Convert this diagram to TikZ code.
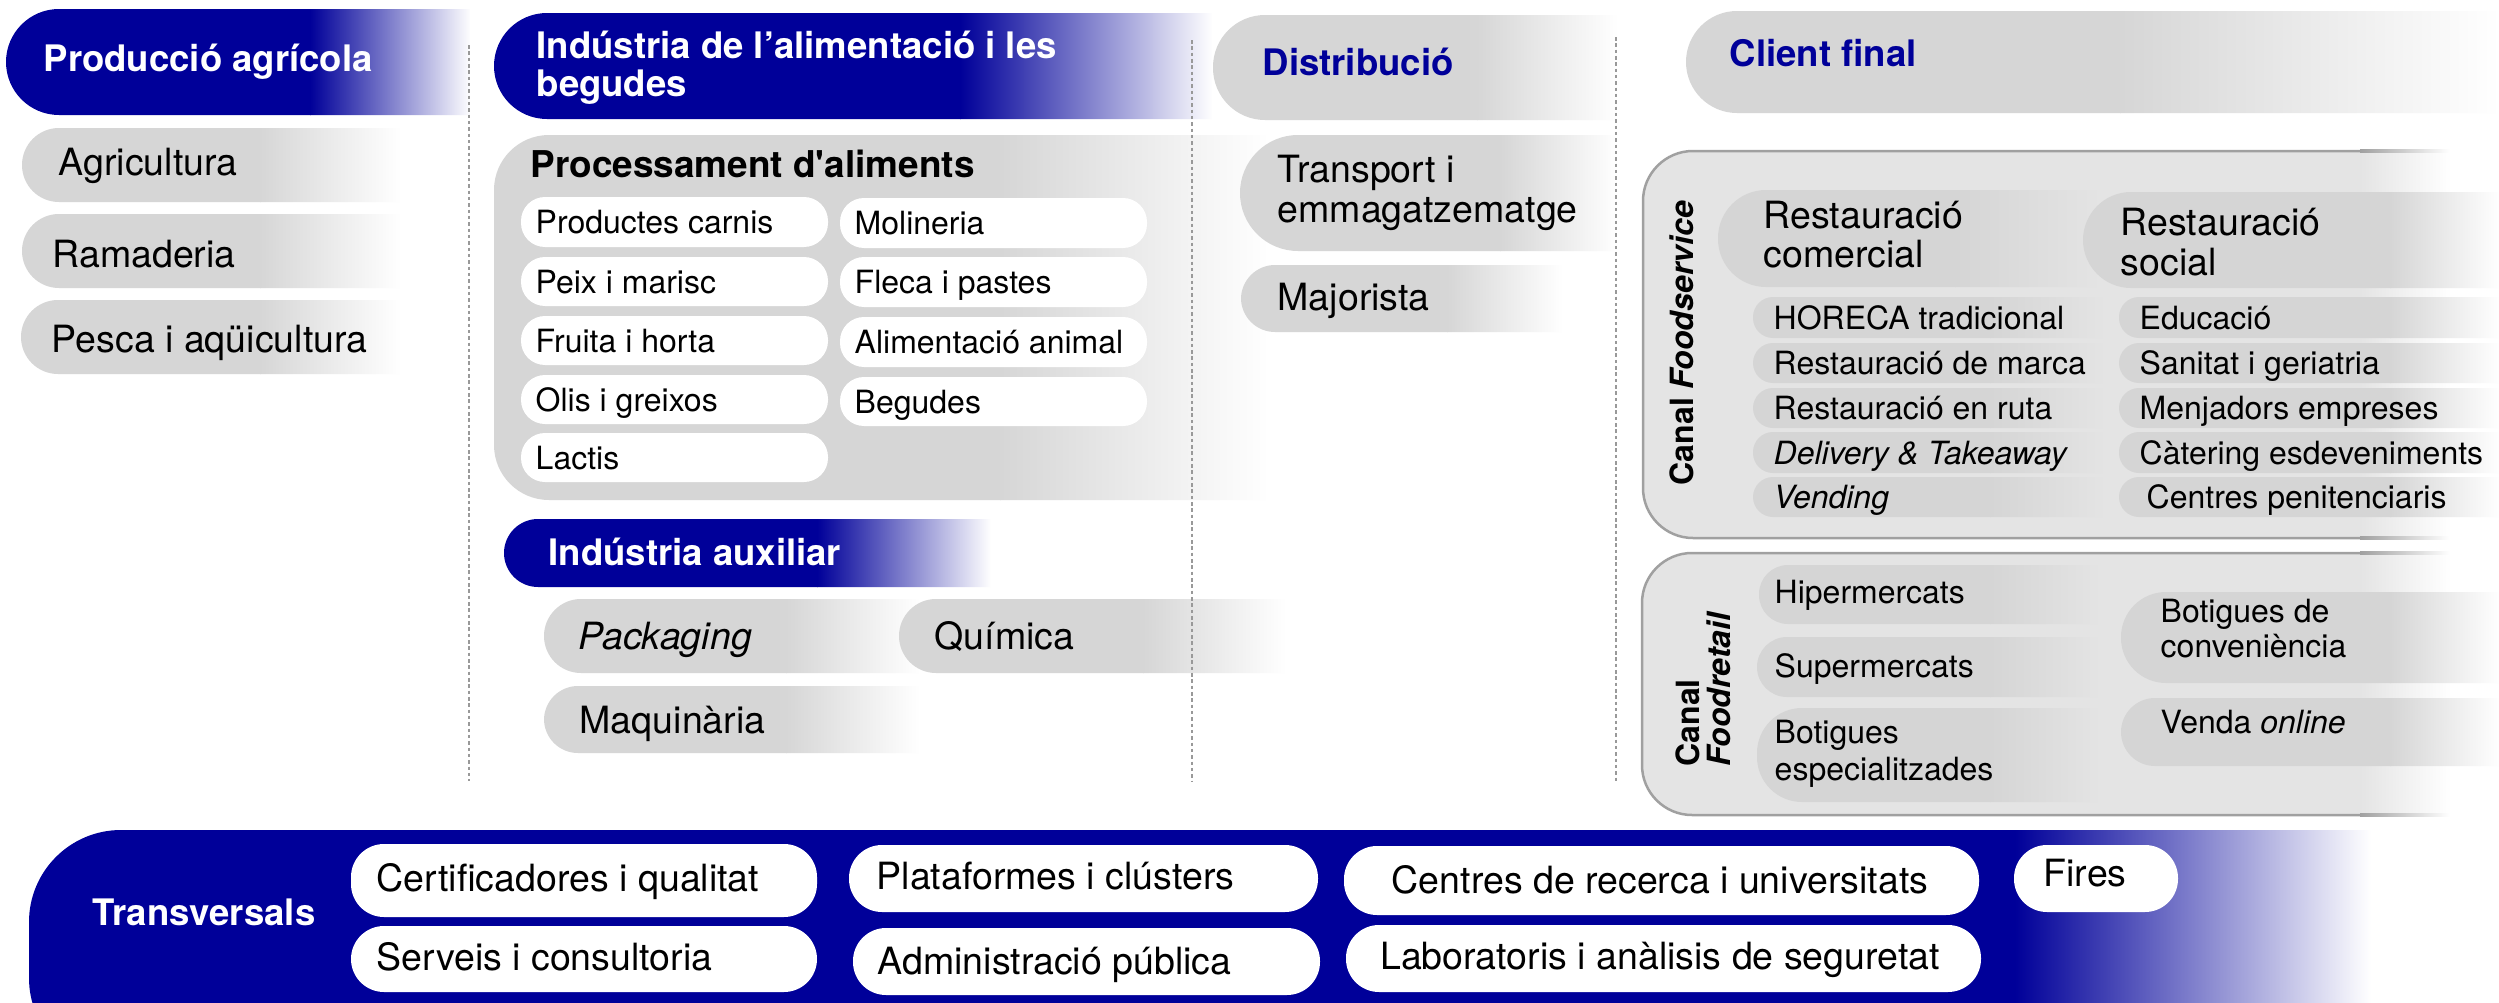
\documentclass[tikz,border=0pt]{standalone}
\usepackage{fontspec}
\setmainfont{TeX Gyre Heros}[Ligatures=TeXOff]
\definecolor{dkblue}{RGB}{0,0,153}
\definecolor{pgray}{RGB}{214,214,214}
\definecolor{bxgray}{RGB}{228,228,228}
\definecolor{bdgray}{RGB}{160,160,160}
\definecolor{fpgray}{RGB}{213,213,213}
\newcommand\fsA{\fontsize{10.67pt}{11.4pt}\selectfont}
\newcommand\fsB{\fontsize{9.1pt}{10pt}\selectfont}
\newcommand\fsH{\fontsize{10.39pt}{11.1pt}\selectfont}
\newcommand\fsP{\fontsize{10.5pt}{11.2pt}\selectfont}
% left-rounded shape, solid colour up to xs, then fading to c2 at x2
% #1 x1, #2 y1, #3 x2, #4 y2, #5 r, #6 xs, #7 c1, #8 c2
\newcommand\fpill[8]{%
  \begin{scope}
    \clip (#3,#2) -- ({#1+#5},#2) .. controls ({#1+0.448*#5},#2) and (#1,{#2+0.448*#5}) .. (#1,{#2+#5})
      -- (#1,{#4-#5}) .. controls (#1,{#4-0.448*#5}) and ({#1+0.448*#5},#4) .. ({#1+#5},#4) -- (#3,#4) -- cycle;
    \fill[#7] ({#1-1},{#2-1}) rectangle ({#6+1},{#4+1});
    \shade[left color=#7,right color=#8] (#6,{#2-1}) rectangle ({#3+1},{#4+1});
  \end{scope}}
% border of a left-rounded box: solid to xs, fading to white at xe
% #1 x1, #2 y1, #3 xs, #4 y2, #5 r, #6 xe
\newcommand\bpill[6]{%
  \draw[bdgray, line width=0.025cm] (#3,#2) -- ({#1+#5},#2) .. controls ({#1+0.448*#5},#2) and (#1,{#2+0.448*#5}) .. (#1,{#2+#5})
      -- (#1,{#4-#5}) .. controls (#1,{#4-0.448*#5}) and ({#1+0.448*#5},#4) .. ({#1+#5},#4) -- (#3,#4);
  \shade[left color=bdgray,right color=white] (#3,{#2-1.25}) rectangle (#6,{#2+1.25});
  \shade[left color=bdgray,right color=white] (#3,{#4-1.25}) rectangle (#6,{#4+1.25});}
\tikzset{
  txtL/.style={anchor=base west, inner sep=0pt, font=\fsA, text=black},
  txtS/.style={anchor=base west, inner sep=0pt, font=\fsB, text=black},
  hdW/.style={anchor=base west, inner sep=0pt, font=\fsH\bfseries, text=white},
  hdB/.style={anchor=base west, inner sep=0pt, font=\fsH\bfseries, text=dkblue},
  sepline/.style={draw=black!40, line width=0.3pt, dash pattern=on 1pt off 0.8pt},
  wpill/.style={fill=white, rounded corners=0.24cm},
  tpill/.style={fill=white, rounded corners=0.33cm},
}
\begin{document}
\begin{tikzpicture}[x=0.01cm,y=-0.01cm]
\useasboundingbox (0,0) rectangle (2499,1003);
\fill[white] (0,0) rectangle (2499,1003);

% ---------- Produccio agricola ----------
\fpill{6}{9}{470}{115}{53}{310}{dkblue}{white}
\fpill{22}{128}{400}{202}{37}{260}{pgray}{white}
\fpill{22}{214}{400}{288}{37}{260}{pgray}{white}
\fpill{21}{300}{400}{374}{37}{260}{pgray}{white}

% ---------- Industria ----------
\fpill{494}{13}{1212}{119}{53}{960}{dkblue}{white}
\fpill{494}{135}{1268}{500}{55}{1000}{pgray}{white}
\fill[wpill] (521,197) rectangle (828,247);
\fill[wpill] (521,257) rectangle (828,306);
\fill[wpill] (521,316) rectangle (828,365);
\fill[wpill] (521,375) rectangle (828,424);
\fill[wpill] (521,433) rectangle (828,482);
\fill[wpill] (840,198) rectangle (1147,248);
\fill[wpill] (840,257) rectangle (1147,307);
\fill[wpill] (840,317) rectangle (1147,367);
\fill[wpill] (840,377) rectangle (1147,426);

\fpill{504}{519}{990}{587}{34}{817}{dkblue}{white}
\fpill{544}{599}{919}{673}{37}{786}{pgray}{white}
\fpill{899}{599}{1285}{673}{37}{1143}{pgray}{white}
\fpill{544}{686}{919}{753}{34}{786}{pgray}{white}

% ---------- Distribucio ----------
\fpill{1213}{15}{1617}{120}{52}{1477}{pgray}{white}
\fpill{1240}{135}{1617}{251}{58}{1500}{pgray}{white}
\fpill{1241}{265}{1562}{332}{34}{1447}{pgray}{white}

% ---------- Client final ----------
\fpill{1686}{11}{2499}{113}{51}{2120}{pgray}{white}

% Foodservice box
\fpill{1643}{151}{2450}{538}{50}{2360}{bxgray}{white}
\bpill{1643}{151}{2360}{538}{50}{2450}
\fpill{1718}{190}{2100}{287}{48}{1955}{fpgray}{bxgray}
\fpill{2083}{192}{2499}{288}{48}{2390}{fpgray}{white}
\fpill{1753}{297}{2105}{338}{20}{1990}{fpgray}{bxgray}
\fpill{1753}{343}{2105}{383}{20}{1990}{fpgray}{bxgray}
\fpill{1753}{388}{2105}{428}{20}{1990}{fpgray}{bxgray}
\fpill{1753}{432}{2105}{473}{20}{1990}{fpgray}{bxgray}
\fpill{1753}{477}{2105}{517}{20}{1990}{fpgray}{bxgray}
\fpill{2119}{297}{2499}{338}{20}{2390}{fpgray}{white}
\fpill{2119}{343}{2499}{383}{20}{2390}{fpgray}{white}
\fpill{2119}{388}{2499}{428}{20}{2390}{fpgray}{white}
\fpill{2119}{432}{2499}{473}{20}{2390}{fpgray}{white}
\fpill{2119}{477}{2499}{517}{20}{2390}{fpgray}{white}

% Foodretail box
\fpill{1642}{553}{2450}{815}{50}{2360}{bxgray}{white}
\bpill{1642}{553}{2360}{815}{50}{2450}
\fpill{1759}{565}{2100}{624}{29}{1990}{fpgray}{bxgray}
\fpill{1757}{637}{2100}{697}{30}{1990}{fpgray}{bxgray}
\fpill{1757}{708}{2100}{802}{45}{1990}{fpgray}{bxgray}
\fpill{2121}{592}{2499}{683}{45}{2390}{fpgray}{white}
\fpill{2121}{698}{2499}{766}{34}{2390}{fpgray}{white}

% ---------- Transversals ----------
\fpill{29}{830}{2370}{1070}{92}{2015}{dkblue}{white}
\fill[tpill] (351,844) rectangle (817,917);
\fill[tpill] (351,926) rectangle (817,992);
\fill[tpill] (849,845) rectangle (1318,912);
\fill[tpill] (853,928) rectangle (1320,995);
\fill[tpill] (1344,846) rectangle (1979,915);
\fill[tpill] (1346,925) rectangle (1981,992);
\fill[tpill] (2014,845) rectangle (2178,912);

% ---------- separators ----------
\coordinate (s1a) at (469,45);   \coordinate (s1b) at (469,781);
\coordinate (s2a) at (1192,40);  \coordinate (s2b) at (1192,781);
\coordinate (s3a) at (1616,37);  \coordinate (s3b) at (1616,781);
\draw[sepline] (s1a) -- (s1b);
\draw[sepline] (s2a) -- (s2b);
\draw[sepline] (s3a) -- (s3b);

% ---------- texts ----------
\node[hdW] (prod) at (43,71) {Producció agrícola};
\node[txtL] (agri) at (58,175) {Agricultura};
\node[txtL] (rama) at (52,267) {Ramaderia};
\node[txtL] (pesc) at (51,352) {Pesca i aqüicultura};

\node[hdW] (ind1) at (536,58) {Indústria de l’alimentació i les};
\node[hdW] (ind2) at (536,97) {begudes};
\node[txtL, font=\fsP\bfseries] (proc) at (530,177) {Processament d'aliments};
\node[txtS] (carn) at (535,233.5) {Productes carnis};
\node[txtS] (peix) at (535,293) {Peix i marisc};
\node[txtS] (frui) at (535,352) {Fruita i horta};
\node[txtS] (olis) at (535,411) {Olis i greixos};
\node[txtS] (lact) at (535,469) {Lactis};
\node[txtS] (moli) at (854,234.5) {Molineria};
\node[txtS] (flec) at (854,293.5) {Fleca i pastes};
\node[txtS] (alim) at (854,353.5) {Alimentació animal};
\node[txtS] (begu) at (854,413) {Begudes};

\node[hdW] (aux) at (548,565) {Indústria auxiliar};
\node[txtL, font=\fsA\itshape] (pack) at (578,649) {Packaging};
\node[txtL] (quim) at (934,649) {Química};
\node[txtL] (maqu) at (579,733) {Maquinària};

\node[hdB] (dist) at (1262,75) {Distribució};
\node[txtL] (tra1) at (1277,182) {Transport i};
\node[txtL] (tra2) at (1277,222) {emmagatzematge};
\node[txtL] (majo) at (1277,310) {Majorista};

\node[hdB] (clie) at (1729,67) {Client final};
\node[font=\fsB\bfseries, rotate=90, anchor=base, inner sep=0pt] (cfs) at (1693,343) {Canal \textit{Foodservice}};
\node[txtL] (rc1) at (1763,228) {Restauració};
\node[txtL] (rc2) at (1763,267) {comercial};
\node[txtL] (rs1) at (2120,235) {Restauració};
\node[txtL] (rs2) at (2120,275) {social};
\node[txtS] (hore) at (1773,329) {HORECA tradicional};
\node[txtS] (marc) at (1773,374.5) {Restauració de marca};
\node[txtS] (ruta) at (1773,419.5) {Restauració en ruta};
\node[txtS] (deli) at (1773,464) {\textit{Delivery \& Takeaway}};
\node[txtS] (vend) at (1773,508.5) {\textit{Vending}};
\node[txtS] (educ) at (2139,329) {Educació};
\node[txtS] (sani) at (2139,374.5) {Sanitat i geriatria};
\node[txtS] (menj) at (2139,419.5) {Menjadors empreses};
\node[txtS] (cate) at (2139,464) {Càtering esdeveniments};
\node[txtS] (peni) at (2146,508.5) {Centres penitenciaris};

\node[font=\fsB\bfseries, rotate=90, anchor=base west, inner sep=0pt] (cfr1) at (1699,767) {Canal};
\node[font=\fsB\bfseries\itshape, rotate=90, anchor=base west, inner sep=0pt] (cfr2) at (1730,767) {Foodretail};
\node[txtS] (hipe) at (1774,603) {Hipermercats};
\node[txtS] (supe) at (1774,677) {Supermercats};
\node[txtS] (bes1) at (1774,743) {Botigues};
\node[txtS] (bes2) at (1774,780) {especialitzades};
\node[txtS] (bco1) at (2160,622) {Botigues de};
\node[txtS] (bco2) at (2160,657) {conveniència};
\node[txtS] (onli) at (2160,733) {Venda \textit{online}};

\node[hdW] (tran) at (92,925) {Transversals};
\node[txtL] (cert) at (376,891) {Certificadores i qualitat};
\node[txtL] (serv) at (376,970) {Serveis i consultoria};
\node[txtL] (plat) at (876,889) {Plataformes i clústers};
\node[txtL] (admi) at (877,974) {Administració pública};
\node[txtL, anchor=base] (cent) at (1660,893) {Centres de recerca i universitats};
\node[txtL, anchor=base] (labo) at (1660,969) {Laboratoris i anàlisis de seguretat};
\node[txtL] (fire) at (2043,886) {Fires};
\end{tikzpicture}
\end{document}
